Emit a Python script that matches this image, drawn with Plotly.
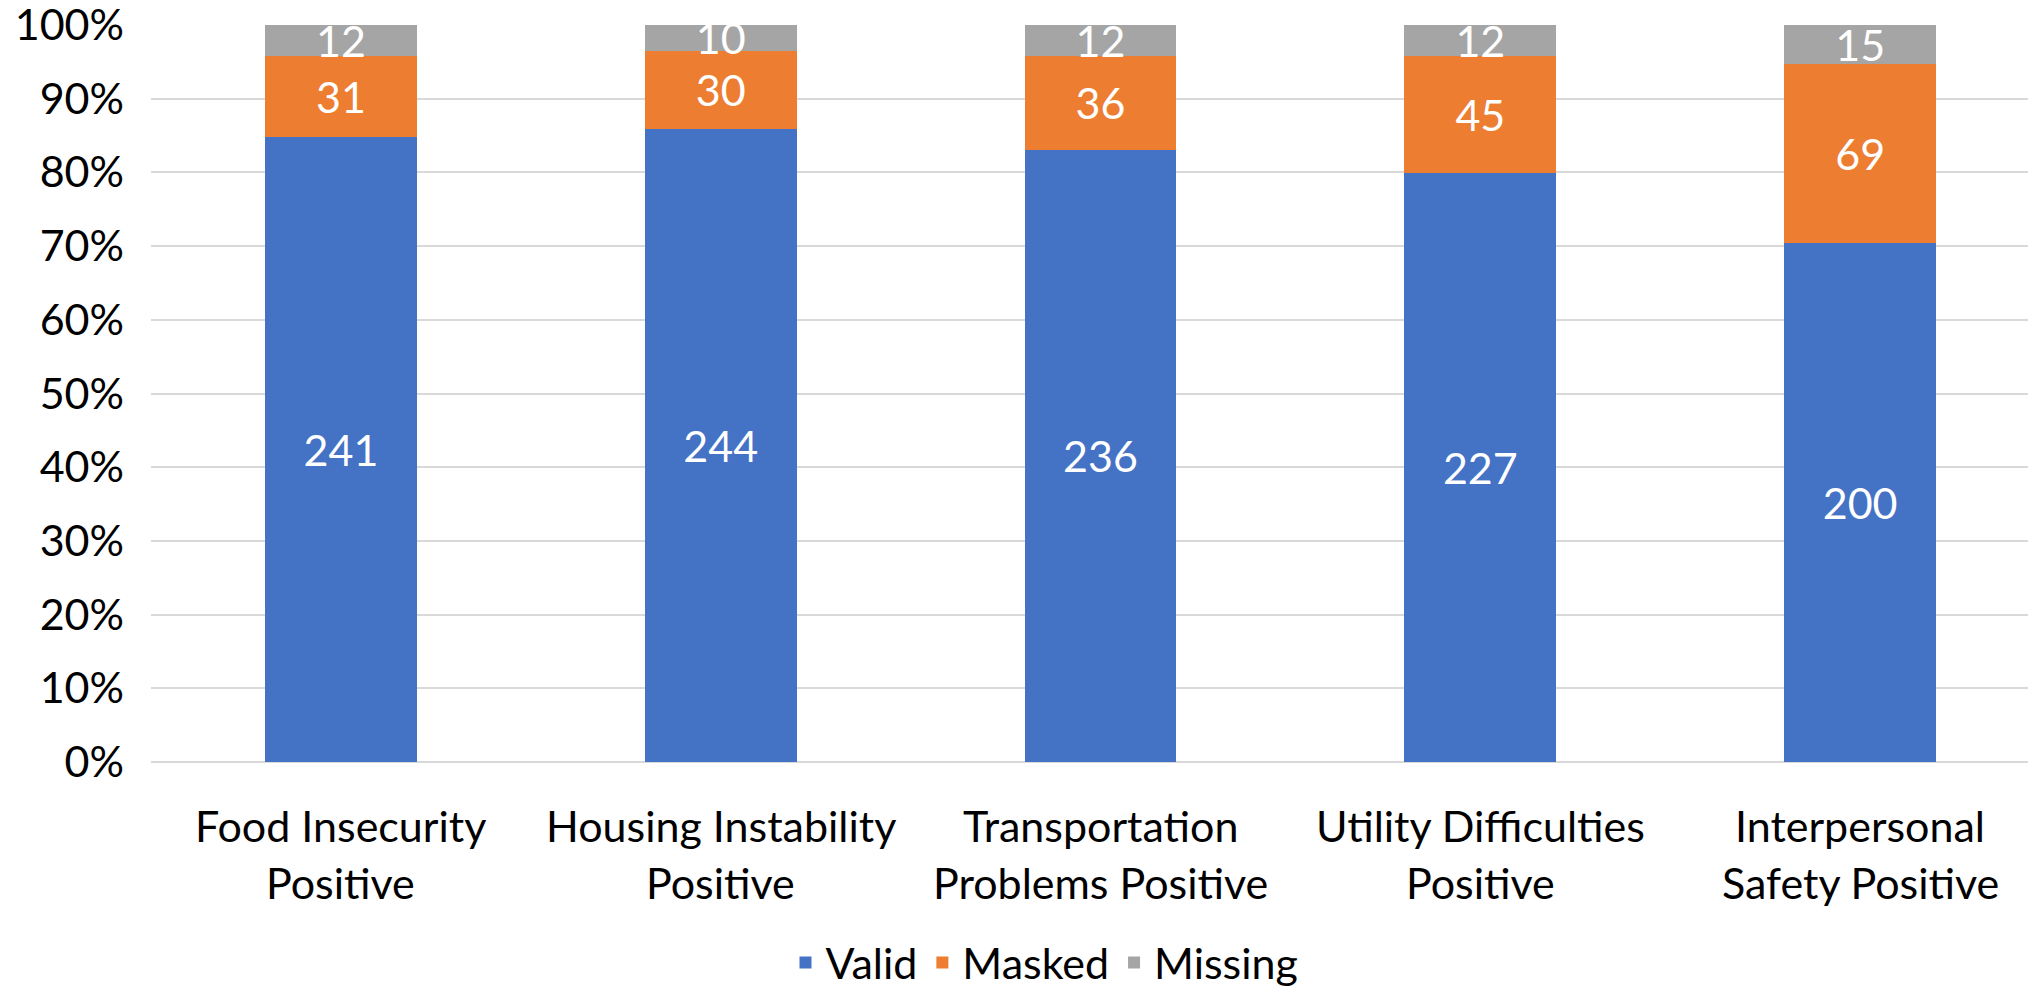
import plotly.graph_objects as go

# categories split onto two lines the way the source chart wraps them
categories = [
    "Food Insecurity Positive",
    "Housing Instability Positive",
    "Transportation Problems Positive",
    "Utility Difficulties Positive",
    "Interpersonal Safety Positive",
]
label_line1 = ["Food Insecurity", "Housing Instability", "Transportation",
               "Utility Difficulties", "Interpersonal"]
label_line2 = ["Positive", "Positive", "Problems Positive", "Positive", "Safety Positive"]

valid = [241, 244, 236, 227, 200]
masked = [31, 30, 36, 45, 69]
missing = [12, 10, 12, 12, 15]

y_ticks = list(range(0, 101, 10))

FONT = "Lato, 'Open Sans', Arial, sans-serif"
FONT_SIZE = 43
BLUE = "#4472C4"
ORANGE = "#ED7D31"
GREY = "#A5A5A5"
GRID = "#D9D9D9"

# the page body keeps its default 8px margin, so the figure is sized to fit the window
fig = go.Figure()
for name, vals, color in [("Valid", valid, BLUE), ("Masked", masked, ORANGE), ("Missing", missing, GREY)]:
    fig.add_trace(go.Bar(
        name=name,
        x=categories,
        y=vals,
        text=[str(v) for v in vals],
        textposition="inside",
        insidetextanchor="middle",
        textangle=0,
        constraintext="none",
        textfont={"family": FONT, "size": FONT_SIZE, "color": "white"},
        marker={"color": color, "line": {"width": 0}},
        cliponaxis=False,
    ))

# category labels drawn as two annotation rows for Excel-like line spacing
for cat, l1, l2 in zip(categories, label_line1, label_line2):
    for text, yy in [(l1, -0.086), (l2, -0.163)]:
        fig.add_annotation(
            x=cat, y=yy, xref="x", yref="paper", text=text, showarrow=False,
            xanchor="center", yanchor="middle",
            font={"family": FONT, "size": FONT_SIZE, "color": "black"},
        )

fig.update_layout(
    barmode="stack",
    barnorm="percent",
    bargap=0.6,
    width=2028,
    height=979,
    paper_bgcolor="white",
    plot_bgcolor="white",
    margin={"l": 143, "r": 0, "t": 17, "b": 225, "autoexpand": False},
    font={"family": FONT, "size": FONT_SIZE, "color": "black"},
    showlegend=True,
    legend={
        "orientation": "h",
        "x": 0.474,
        "xanchor": "center",
        "y": -0.272,
        "yanchor": "middle",
        "font": {"family": FONT, "size": FONT_SIZE, "color": "black"},
        "traceorder": "normal",
        "bgcolor": "rgba(0,0,0,0)",
    },
)
fig.update_xaxes(
    range=[-0.5, 4.463],
    showticklabels=False,
    showgrid=False,
    showline=False,
    zeroline=False,
    automargin=False,
)
fig.update_yaxes(
    range=[0, 100],
    tickvals=y_ticks,
    ticktext=[f"{v}%" for v in y_ticks],
    showgrid=True,
    gridcolor=GRID,
    gridwidth=2,
    zeroline=True,
    zerolinecolor=GRID,
    zerolinewidth=2,
    ticks="",
    ticklabelstandoff=26,
    ticklabeloverflow="allow",
    automargin=False,
    tickfont={"family": FONT, "size": FONT_SIZE, "color": "black"},
)

fig.write_html("out.html")
